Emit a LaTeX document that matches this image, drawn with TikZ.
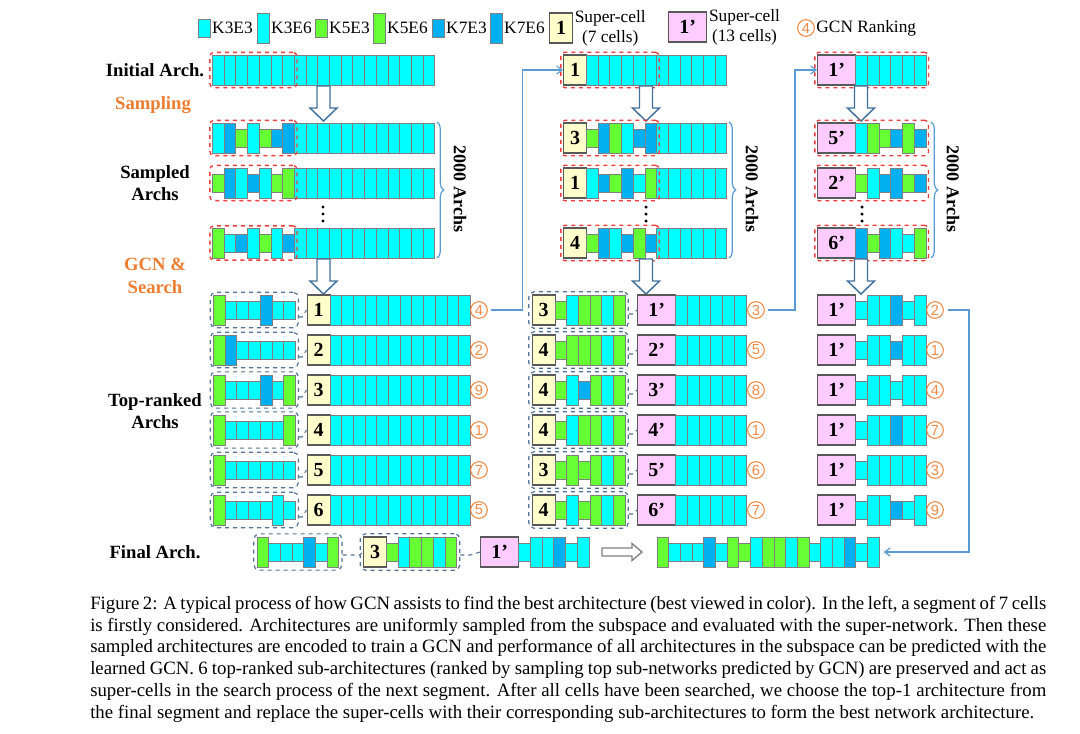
\documentclass[tikz,border=0pt]{standalone}
\usepackage{fontspec}
\setmainfont{Liberation Serif}
\newfontfamily\ranksans{Liberation Sans}
\usetikzlibrary{fit,calc,decorations.pathreplacing,arrows.meta}

\definecolor{kcyan}{HTML}{00FFFF}
\definecolor{kgreen}{HTML}{66FF33}
\definecolor{kblue}{HTML}{00B0F0}
\definecolor{cellline}{HTML}{7F7F7F}
\definecolor{superyellow}{HTML}{FFFFCC}
\definecolor{superpink}{HTML}{FFCCFF}
\definecolor{superline}{HTML}{595959}
\definecolor{segred}{HTML}{F03C3C}
\definecolor{segblue}{HTML}{52739A}
\definecolor{flowblue}{HTML}{5B9BD5}
\definecolor{rankorange}{HTML}{F08A46}
\definecolor{labelorange}{HTML}{ED7D31}
\definecolor{arrowline}{HTML}{41719C}

%% one cell is 11.7px wide
\def\cw{11.7}
%% row of cells: name, left x, centre y, cell codes
\newcommand{\archrow}[4]{%
  \edef\celllist{#4}%
  \coordinate (#1-top) at (#2,#3-15);
  \coordinate (#1-bot) at (#2,#3+15);
  \foreach \code [count=\i] in \celllist {
    \node[cell,cell\code] (#1-\i) at ({#2+(\i-1)*\cw},#3) {};
  }}
%% row of plain K3E6 cells: name, left x, centre y, number
\newcommand{\plainrow}[4]{%
  \foreach \i in {1,...,#4} {
    \node[cell,cellA] (#1-\i) at ({#2+(\i-1)*\cw},#3) {};
  }}
%% hollow block arrow: centre x, top y, tip y
\newcommand{\hollowdown}[3]{%
  \draw[hollow] (#1-6.5,#2) -- (#1+6.5,#2) -- (#1+6.5,#3-13) -- (#1+13.5,#3-13)
    -- (#1,#3) -- (#1-13.5,#3-13) -- (#1-6.5,#3-13) -- cycle;}
%% vertical ellipsis: centre x, centre y
\newcommand{\moredots}[2]{%
  \foreach \d in {-7,0,7} {\fill (#1,#2+\d) circle (1.3pt);}}
\newcommand{\capline}[1]{\hbox to 717pt{#1}}

\begin{document}
\begin{tikzpicture}[x=0.75pt,y=-0.75pt,
  cell/.style={rectangle,draw=cellline,line width=0.7pt,inner sep=0pt,anchor=west,minimum width=8.775pt},
  cellA/.style={fill=kcyan,minimum height=22.5pt},
  cella/.style={fill=kcyan,minimum height=13.5pt},
  cellB/.style={fill=kgreen,minimum height=22.5pt},
  cellb/.style={fill=kgreen,minimum height=13.5pt},
  cellC/.style={fill=kblue,minimum height=22.5pt},
  cellc/.style={fill=kblue,minimum height=13.5pt},
  supercell/.style={rectangle,draw=superline,line width=0.9pt,inner sep=0pt,anchor=west,
    minimum height=22.5pt,font=\bfseries\fontsize{15}{15}\selectfont},
  seven/.style={supercell,fill=superyellow,minimum width=17.25pt},
  thirteen/.style={supercell,fill=superpink,minimum width=28.7pt},
  redseg/.style={draw=segred,dashed,line width=1pt,rounded corners=3pt,inner sep=1.6pt},
  blueseg/.style={draw=segblue,dashed,line width=0.9pt,rounded corners=4pt,inner sep=2pt},
  rank/.style={circle,draw=rankorange,text=rankorange,line width=0.8pt,inner sep=0pt,
    minimum size=12.5pt,font=\ranksans\fontsize{11}{11}\selectfont},
  tag/.style={font=\bfseries\fontsize{14}{17}\selectfont,align=center},
  legend/.style={anchor=west,inner sep=1pt,font=\fontsize{13}{15}\selectfont,align=center},
  archcount/.style={font=\bfseries\fontsize{13.5}{14}\selectfont,rotate=-90},
  braceline/.style={draw=flowblue,line width=0.9pt,decorate,decoration={brace,amplitude=5pt}},
  flow/.style={draw=flowblue,line width=0.9pt,-{Straight Barb[length=4pt,width=6pt]}},
  link/.style={draw=segblue,dashed,line width=0.8pt},
  hollow/.style={draw=arrowline,fill=white,line width=1.1pt}]
\useasboundingbox (0,0) rectangle (1080,733);

%% legend
\foreach \code/\x/\txt in {a/198/K3E3, A/257/K3E6, b/315/K5E3, B/373/K5E6, c/432/K7E3, C/490/K7E6} {
  \node[cell,cell\code] (lg-\txt) at (\x,28) {};
  \node[legend] (lg-\txt-t) at (lg-\txt.east) {\txt};
}
\node[seven] (lg-s) at (549,28) {1};
\node[legend] (lg-s-t) at (lg-s.east) {Super-cell\\(7 cells)};
\node[thirteen] (lg-p) at (668,27) {1’};
\node[legend] (lg-p-t) at (lg-p.east) {Super-cell\\(13 cells)};
\node[rank] (lg-r) at (806,28) {4};
\node[legend] (lg-r-t) at (lg-r.east) {GCN Ranking};

%% stage names
\node[tag] (t-init) at (155,70) {Initial Arch.};
\node[tag,text=labelorange] (t-samp) at (153,105) {Sampling};
\node[tag] (t-sampled) at (155,183) {Sampled\\Archs};
\node[tag,text=labelorange] (t-gcn) at (155,276) {GCN \&\\Search};
\node[tag] (t-top) at (155,411) {Top-ranked\\Archs};
\node[tag] (t-final) at (155,552) {Final Arch.};

%% first segment
\plainrow{li}{212}{70}{19}
\node[redseg,fit=(li-1)(li-7)] (li-box) {};
\hollowdown{323.5}{86}{121}
\foreach \row/\y/\pat in {1/138/{A,C,b,A,b,c,C}, 2/183/{b,C,A,c,A,b,B}, 3/243/{B,a,c,A,b,A,c}} {
  \archrow{ls\row}{212}{\y}{\pat}
  \plainrow{lsp\row}{293.9}{\y}{12}
  \node[redseg,fit=(ls\row-top)(ls\row-bot)(ls\row-7)] (ls\row-box) {};
}
\moredots{323}{214}
\draw[braceline] (437,122) -- (437,258);
\node[archcount] (lc) at (460,189) {2000 Archs};
\hollowdown{323.5}{259}{294}
\foreach \row/\pat/\rk in {1/{B,a,a,a,C,a,a}/4, 2/{B,C,a,a,a,a,a}/2, 3/{B,a,a,a,C,a,B}/9,
    4/{B,a,a,a,a,a,B}/1, 5/{B,a,a,a,a,a,a}/7, 6/{B,a,a,a,a,A,a}/5} {
  \pgfmathsetmacro\y{270+40*\row}
  \archrow{lt\row}{213}{\y}{\pat}
  \node[blueseg,fit=(lt\row-top)(lt\row-bot)(lt\row-7)] (lt\row-box) {};
  \node[seven] (lt\row-s) at (306.5,\y) {\row};
  \plainrow{ltp\row}{329.5}{\y}{12}
  \node[rank] (lt\row-r) at (479,\y) {\rk};
  \draw[link] ($(lt\row-box.east)+(0,7)$) -- ++(3,0) -- (lt\row-s.west);
}

%% second segment
\node[seven] (mi-s) at (563,70) {1};
\plainrow{mi}{586}{70}{12}
\node[redseg,fit=(mi-s)(mi-6)] (mi-box) {};
\hollowdown{646}{86}{121}
\foreach \row/\y/\s/\pat in {1/138/3/{b,C,B,A,c,C}, 2/183/1/{A,c,b,C,a,B}, 3/243/4/{b,C,A,c,B,c}} {
  \node[seven] (ms\row-s) at (563,\y) {\s};
  \archrow{ms\row}{586}{\y}{\pat}
  \plainrow{msp\row}{656.2}{\y}{6}
  \node[redseg,fit=(ms\row-s)(ms\row-6)] (ms\row-box) {};
}
\moredots{646}{214}
\draw[braceline] (729,122) -- (729,258);
\node[archcount] (mc) at (752,189) {2000 Archs};
\hollowdown{646}{259}{294}
\foreach \row/\s/\pat/\rk in {1/3/{b,A,B,B,A,B}/3, 2/4/{b,B,B,B,A,B}/5, 3/4/{b,A,c,B,A,B}/8,
    4/4/{b,A,B,B,A,B}/1, 5/3/{b,B,b,B,A,B}/6, 6/4/{b,A,b,B,A,B}/7} {
  \pgfmathsetmacro\y{270+40*\row}
  \node[seven] (mt\row-s) at (531.5,\y) {\s};
  \archrow{mt\row}{554.5}{\y}{\pat}
  \node[blueseg,fit=(mt\row-s)(mt\row-6)] (mt\row-box) {};
  \node[thirteen] (mt\row-p) at (637,\y) {\row’};
  \plainrow{mtp\row}{675.3}{\y}{6}
  \node[rank] (mt\row-r) at (756,\y) {\rk};
  \draw[link] ($(mt\row-box.east)+(0,4)$) -- ++(4,0) -- (mt\row-p.west);
}

%% third segment
\node[thirteen] (ri-s) at (817,70) {1’};
\plainrow{ri}{855.3}{70}{6}
\node[redseg,fit=(ri-s)(ri-6)] (ri-box) {};
\hollowdown{861}{86}{121}
\foreach \row/\y/\s/\pat in {1/138/5/{A,B,b,c,B,c}, 2/183/2/{b,A,c,C,b,c}, 3/243/6/{C,b,C,A,a,B}} {
  \node[thirteen] (rs\row-s) at (817,\y) {\s’};
  \archrow{rs\row}{855.3}{\y}{\pat}
  \node[redseg,fit=(rs\row-s)(rs\row-6)] (rs\row-box) {};
}
\moredots{862}{214}
\draw[braceline] (931,122) -- (931,258);
\node[archcount] (rc) at (953,189) {2000 Archs};
\hollowdown{861}{259}{294}
\foreach \row/\pat/\rk in {1/{a,A,A,C,a,A}/2, 2/{a,A,A,c,A,A}/1, 3/{a,A,A,a,A,A}/4,
    4/{a,A,A,C,A,A}/7, 5/{a,A,A,A,A,A}/3, 6/{a,A,A,c,a,A}/9} {
  \pgfmathsetmacro\y{270+40*\row}
  \node[thirteen] (rt\row-p) at (817,\y) {1’};
  \archrow{rt\row}{855.3}{\y}{\pat}
  \node[rank] (rt\row-r) at (935,\y) {\rk};
}

%% final architecture
\archrow{fa}{256.5}{552}{B,a,a,a,C,a,B}
\node[blueseg,fit=(fa-top)(fa-bot)(fa-7)] (fa-box) {};
\node[seven] (fb-s) at (363,552) {3};
\archrow{fb}{386}{552}{b,A,B,B,A,B}
\node[blueseg,fit=(fb-s)(fb-6)] (fb-box) {};
\node[thirteen] (fc-s) at (480,552) {1’};
\archrow{fc}{518.3}{552}{a,A,A,C,a,A}
\draw[link] ($(fa-box.east)+(0,3)$) -- ++(17,0) -- (fb-s.west);
\draw[link] ($(fb-box.east)+(0,3)$) -- ++(10,0) -- (fc-s.west);
\draw[draw=cellline,fill=white,line width=1pt] (602,548) -- (632,548) -- (632,543.5) -- (642,552)
  -- (632,560.5) -- (632,556) -- (602,556) -- cycle;
\archrow{best}{656.5}{552}{B,a,a,a,C,a,B,b,A,B,B,A,B,a,A,A,C,a,A}

%% segment to segment
\coordinate (upA) at (522.5,310);
\coordinate (upB) at (795,310);
\coordinate (downC) at (969,310);
\draw[flow,shorten <=2pt] (lt1-r.east) -- (upA) |- (mi-s.west);
\draw[flow,shorten <=2pt] (mt1-r.east) -- (upB) |- (ri-s.west);
\draw[flow,shorten <=3pt,shorten >=3pt] (rt1-r.east) -- (downC) |- (best-19.east);

%% caption
\node[anchor=north west,inner sep=0pt,align=left,font=\fontsize{14.1}{16.3}\selectfont] (cap) at (90,596) {%
\capline{Figure 2: A typical process of how GCN assists to find the best architecture (best viewed in color). In the left, a segment of 7 cells}\\
\capline{is firstly considered. Architectures are uniformly sampled from the subspace and evaluated with the super-network. Then these}\\
\capline{sampled architectures are encoded to train a GCN and performance of all architectures in the subspace can be predicted with the}\\
\capline{learned GCN. 6 top-ranked sub-architectures (ranked by sampling top sub-networks predicted by GCN) are preserved and act as}\\
\capline{super-cells in the search process of the next segment. After all cells have been searched, we choose the top-1 architecture from}\\
the final segment and replace the super-cells with their corresponding sub-architectures to form the best network architecture.};
\end{tikzpicture}
\end{document}
